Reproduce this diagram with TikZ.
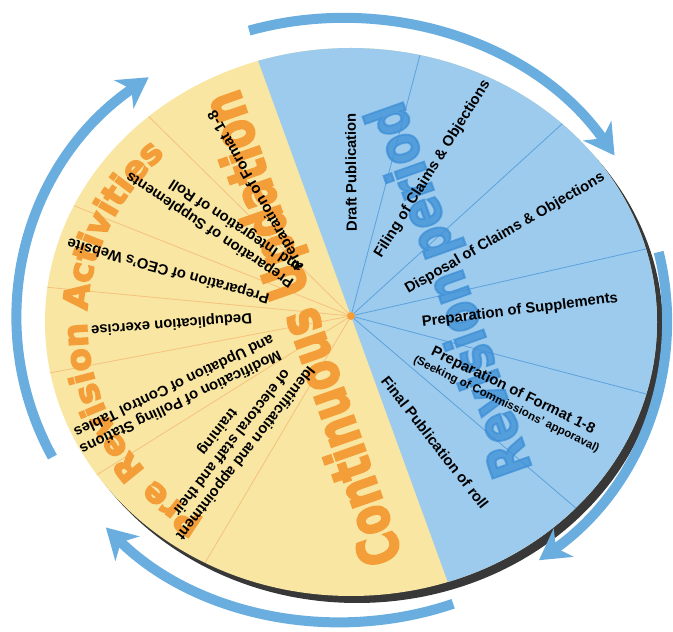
\documentclass[tikz,border=0pt]{standalone}
\usepackage{fontspec}
\setmainfont{Liberation Sans}
\newfontfamily\heavyfont[FakeBold=4]{DejaVu Sans}
\usepackage{graphicx}
\usepackage{tikz}
\usetikzlibrary{arrows.meta, decorations.text}
\definecolor{pieblue}{HTML}{9DCBEE}
\definecolor{pieyellow}{HTML}{F8E6A2}
\definecolor{lineblue}{HTML}{5CA2DC}
\definecolor{lineorange}{HTML}{F5C27E}
\definecolor{bigorange}{HTML}{F49E3A}
\definecolor{bigblue}{HTML}{3D8FD6}
\definecolor{ringblue}{HTML}{6AAEE0}
\definecolor{rimshadow}{HTML}{383838}
\tikzset{
  phaselabel/.style={font=\bfseries\fontsize{14.8}{17.5}\selectfont, inner sep=0pt, align=left},
  bigword/.style={font=\heavyfont\bfseries\fontsize{56}{56}\selectfont, inner sep=0pt},
  cyclearrow/.style={ringblue, line width=10pt, -{Stealth[length=30pt, width=34pt, inset=9pt]}},
  bluesep/.style={lineblue, line width=0.8pt},
  yellowsep/.style={lineorange, line width=0.8pt}
}

\begin{document}
\begin{tikzpicture}[x=1pt, y=1pt]
  \useasboundingbox (0,0) rectangle (673,632);
  \coordinate (E) at (351,310);
  \coordinate (O) at (351,316);
  \coordinate (R) at (342,312);

  % disc with its shadow
  \fill[rimshadow] (357,303) ellipse [x radius=306, y radius=274];
  \fill[pieyellow] (E) ellipse [x radius=306, y radius=274];
  \begin{scope}
    \clip (E) ellipse [x radius=306, y radius=274];
    \fill[pieblue] (O) ++(110:800) -- ++(290:1600) -- ++(20:800) -- ++(110:1600) -- cycle;
    \foreach \a in {75.2,42.3,12.8,-14.8,-40.5}
      \draw[bluesep] (O) -- ++(\a:400);
    \foreach \a in {135.4,158.3,174.6,190.7,212,239.4}
      \draw[yellowsep] (O) -- ++(\a:400);
  \end{scope}

  % big headings
  \node[bigword, text=bigorange, rotate=109.3] (contupd) at (306,304.5)
    {\scalebox{0.75}[1]{Continuous Updation}};
  \node[bigword, text=bigblue, text opacity=0.75, rotate=109.5] (revper) at (452.5,343)
    {\scalebox{0.8}[1]{Revision period}};
  \path[decorate, decoration={text along path, text align=center,
      text={|\heavyfont\bfseries\fontsize{34}{34}\selectfont\color{bigorange}|Pre Revision Activities}}]
    (E) ++(240:264 and 236) arc[start angle=240, end angle=131, x radius=264, y radius=236];

  % revision period steps
  \node[phaselabel, rotate=90.5] (draft) at (351,459.5) {Draft Publication};
  \node[phaselabel, rotate=58] (filing) at (432.5,463) {Filing of Claims \& Objections};
  \node[phaselabel, rotate=30] (disposal) at (505,398.5) {Disposal of Claims \& Objections};
  \node[phaselabel, rotate=7] (suppl) at (520,321.5) {Preparation of Supplements};
  \node[phaselabel, rotate=-26, align=center] (formatr) at (510,235)
    {Preparation of Format 1-8\\[-3pt]{\fontsize{11.5}{13}\selectfont(Seeking of Commissions’ apporaval)}};
  \node[phaselabel, rotate=-52] (final) at (435,189.5) {Final Publication of roll};

  % continuous updation and pre revision steps
  \node[phaselabel, rotate=119.5] (formatl) at (256.5,442) {Preparation of Format 1-8};
  \node[phaselabel, rotate=146.5] (integr) at (215,410)
    {Preparation of Supplements\\and Integration of Roll};
  \node[phaselabel, rotate=164.5] (website) at (168.5,362) {Preparation of CEO’s Website};
  \node[phaselabel, rotate=184.5] (dedup) at (171.5,308.5) {Deduplication exercise};
  \node[phaselabel, rotate=205.5] (polling) at (176.5,238.5)
    {Modification of Polling Stations\\and Updation of Control Tables};
  \node[phaselabel, rotate=232, align=center] (staff) at (231,190)
    {Identification and appointment\\of electoral staff and their\\training};

  \node[circle, fill=bigorange, inner sep=0pt, minimum size=8pt] (hub) at (O) {};

  % cycle arrows
  \draw[cyclearrow] (R) ++(106.6:325 and 302) arc[start angle=106.6, end angle=33, x radius=325, y radius=302];
  \draw[cyclearrow] (R) ++(13:325 and 302) arc[start angle=13, end angle=-52.7, x radius=325, y radius=302];
  \draw[cyclearrow] (R) ++(-70:325 and 302) arc[start angle=-70, end angle=-136.6, x radius=325, y radius=302];
  \draw[cyclearrow] (R) ++(207:325 and 302) arc[start angle=207, end angle=126.5, x radius=325, y radius=302];
\end{tikzpicture}
\end{document}
